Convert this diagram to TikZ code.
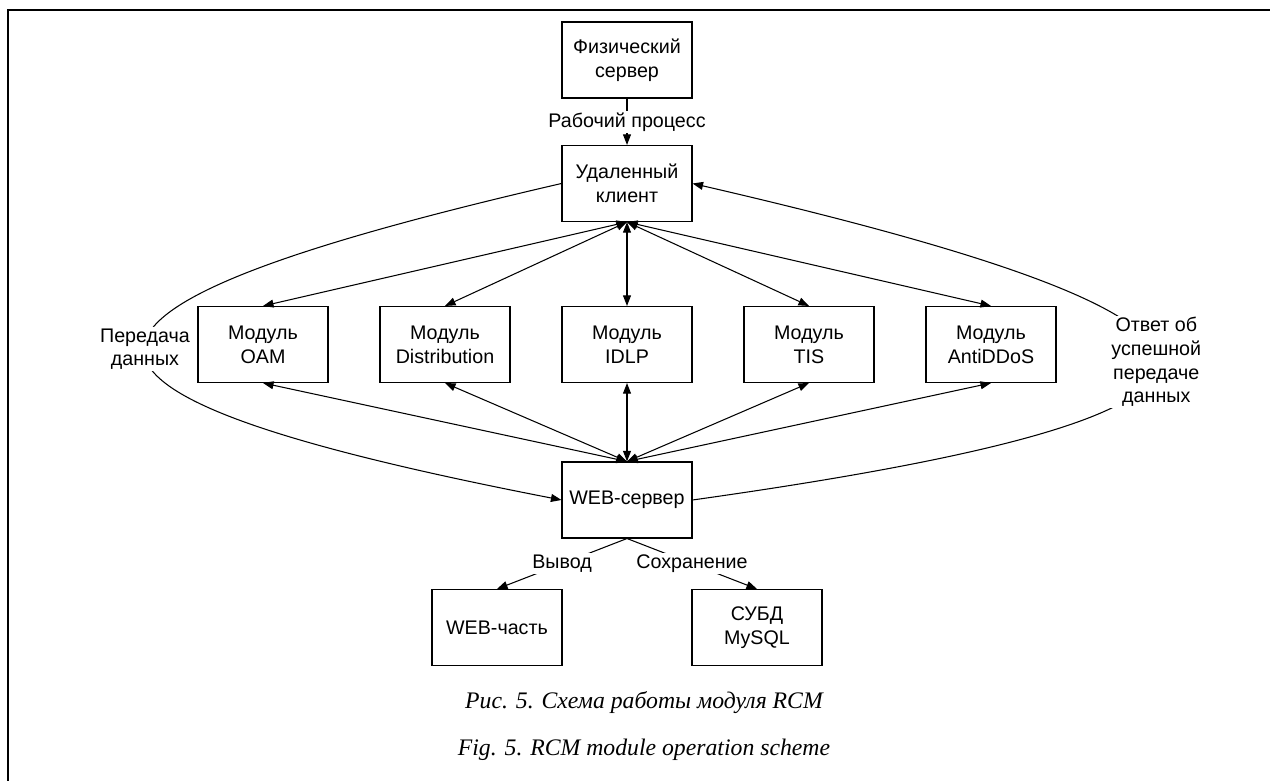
\documentclass[tikz,border=0pt]{standalone}
\usepackage{fontspec}
\setmainfont{Liberation Sans}
\newfontfamily\capfont{Liberation Serif}
\usetikzlibrary{positioning,arrows.meta}

\begin{document}
\begin{tikzpicture}[
  >={Triangle[length=6pt,width=4.5pt]},
  line width=0.6pt,
  block/.style={rectangle,draw=black,minimum width=2.6cm,minimum height=1.52cm,
                inner sep=0pt,align=center,font=\fontsize{11.2}{13.6}\selectfont},
  flowlabel/.style={fill=white,inner sep=1pt,align=center,
                    font=\fontsize{11.2}{13.4}\selectfont},
  figcaption/.style={font=\capfont\itshape\fontsize{13.5}{16}\selectfont}]

\useasboundingbox (0,0) rectangle (25.4,15.62);
% frame
\draw[line width=1.1pt] (0.16,0) -- (0.16,15.42) -- (25.4,15.42);

% ============ Top: server and client ============
\node[block] (fiz) at (12.54,14.42) {Физический\\сервер};
\node[block] (ud)  at (12.54,11.95) {Удаленный\\клиент};
\draw[->] (fiz) -- node[flowlabel] {Рабочий процесс} (ud);

% ============ Modules ============
\node[block] (oam)      at (5.26,8.73)  {Модуль\\OAM};
\node[block] (distr)    at (8.90,8.73)  {Модуль\\Distribution};
\node[block] (idlp)     at (12.54,8.73) {Модуль\\IDLP};
\node[block] (tis)      at (16.18,8.73) {Модуль\\TIS};
\node[block] (antiddos) at (19.82,8.73) {Модуль\\AntiDDoS};

% ============ WEB server and outputs ============
\node[block] (web)     at (12.54,5.62) {WEB-сервер};
\node[block] (webpart) at (9.94,3.07)  {WEB-часть};
\node[block] (mysql)   at (15.14,3.07) {СУБД\\MySQL};

% client <-> modules
\draw[<->] (ud.south) -- (oam.north);
\draw[<->] (ud.south) -- (distr.north);
\draw[<->] (ud.south) -- (idlp.north);
\draw[<->] (ud.south) -- (tis.north);
\draw[<->] (ud.south) -- (antiddos.north);
% modules <-> web server
\draw[<->] (web.north) -- (oam.south);
\draw[<->] (web.north) -- (distr.south);
\draw[<->] (web.north) -- (idlp.south);
\draw[<->] (web.north) -- (tis.south);
\draw[<->] (web.north) -- (antiddos.south);

% data transfer and answer
\draw[->] (ud.west) to[out=193,in=169,looseness=4.6]
  node[flowlabel] {Передача\\данных} (web.west);
\draw[->] (web.east) to[out=8,in=-13,looseness=5.1]
  node[flowlabel] {Ответ об\\успешной\\передаче\\данных} (ud.east);

% output and storing
\draw[->] (web.south) -- node[flowlabel] {Вывод} (webpart.north);
\draw[->] (web.south) -- node[flowlabel] {Сохранение} (mysql.north);

% captions
\node[figcaption] (cap1) at (12.88,1.56) {Рис. 5. Схема работы модуля RCM};
\node[figcaption] (cap2) at (12.88,0.62) {Fig. 5. RCM module operation scheme};

\end{tikzpicture}
\end{document}
